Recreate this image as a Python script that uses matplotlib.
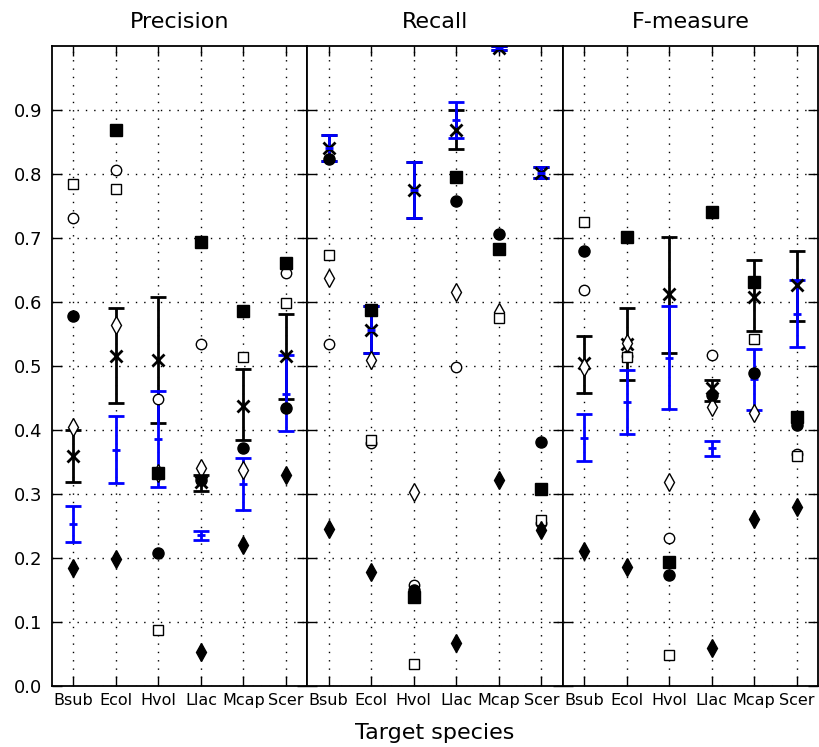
import matplotlib
matplotlib.use("Agg")
import matplotlib.pyplot as plt
import numpy as np

nan = np.nan
species = ['Bsub', 'Ecol', 'Hvol', 'Llac', 'Mcap', 'Scer']
panels = ['Precision', 'Recall', 'F-measure']

# ===================================================================== single methods
# filled square, open circle, open square, filled circle, open diamond, filled diamond
precision_fsq = [nan, 0.869, 0.333, 0.694, 0.586, 0.661]
precision_ocirc = [0.731, 0.806, 0.448, 0.534, nan, 0.646]
precision_osq = [0.784, 0.777, 0.087, nan, 0.514, 0.598]
precision_fcirc = [0.578, nan, 0.207, 0.322, 0.372, 0.435]
precision_odiam = [0.405, 0.564, 0.333, 0.340, 0.338, nan]
precision_fdiam = [0.184, 0.198, nan, 0.053, 0.220, 0.329]

recall_fsq = [nan, 0.5875, 0.139, 0.795, 0.683, 0.308]
recall_ocirc = [0.535, 0.379, 0.158, 0.499, nan, 0.254]
recall_osq = [0.674, 0.384, 0.034, nan, 0.575, 0.259]
recall_fcirc = [0.823, nan, 0.150, 0.758, 0.707, 0.382]
recall_odiam = [0.638, 0.510, 0.303, 0.615, 0.585, nan]
recall_fdiam = [0.246, 0.178, nan, 0.067, 0.322, 0.244]

fmeas_fsq = [nan, 0.701, 0.194, 0.741, 0.631, 0.421]
fmeas_ocirc = [0.618, 0.516, 0.232, 0.517, nan, 0.362]
fmeas_osq = [0.7255, 0.514, 0.048, nan, 0.542, 0.359]
fmeas_fcirc = [0.679, nan, 0.173, 0.455, 0.489, 0.408]
fmeas_odiam = [0.498, 0.536, 0.319, 0.436, 0.426, nan]
fmeas_fdiam = [0.211, 0.186, nan, 0.060, 0.261, 0.280]

# ===================================================================== means (black x / blue)
precision_black_mid = [0.359, 0.516, 0.509, 0.318, 0.438, 0.515]
precision_black_lo = [0.319, 0.442, 0.411, 0.305, 0.384, 0.448]
precision_black_hi = [0.400, 0.590, 0.608, 0.330, 0.495, 0.581]
precision_blue_mid = [0.253, 0.369, 0.386, 0.236, 0.316, 0.457]
precision_blue_lo = [0.2245, 0.317, 0.311, 0.228, 0.275, 0.399]
precision_blue_hi = [0.281, 0.422, 0.461, 0.242, 0.356, 0.517]

recall_black_mid = [0.841, 0.557, 0.775, 0.869, 0.997, 0.802]
recall_black_lo = [0.821, 0.520, 0.731, 0.839, 0.994, 0.794]
recall_black_hi = [0.861, 0.594, 0.818, 0.900, 1.000, 0.811]
recall_blue_mid = [0.841, 0.557, 0.775, 0.884, 0.997, 0.802]
recall_blue_lo = [0.821, 0.520, 0.731, 0.857, 0.994, 0.794]
recall_blue_hi = [0.861, 0.594, 0.818, 0.912, 1.000, 0.811]

fmeas_black_mid = [0.504, 0.535, 0.6125, 0.465, 0.608, 0.627]
fmeas_black_lo = [0.458, 0.478, 0.521, 0.446, 0.554, 0.571]
fmeas_black_hi = [0.547, 0.591, 0.702, 0.478, 0.665, 0.680]
fmeas_blue_mid = [0.388, 0.443, 0.512, 0.372, 0.480, 0.581]
fmeas_blue_lo = [0.352, 0.394, 0.433, 0.360, 0.431, 0.529]
fmeas_blue_hi = [0.425, 0.493, 0.593, 0.383, 0.527, 0.634]

# drawing order: later entries end up on top
methods = [
    (precision_odiam, recall_odiam, fmeas_odiam, 'd', 'w', 9),
    (precision_ocirc, recall_ocirc, fmeas_ocirc, 'o', 'w', 7.5),
    (precision_osq, recall_osq, fmeas_osq, 's', 'w', 7.5),
    (precision_fcirc, recall_fcirc, fmeas_fcirc, 'o', 'k', 8),
    (precision_fsq, recall_fsq, fmeas_fsq, 's', 'k', 8),
    (precision_fdiam, recall_fdiam, fmeas_fdiam, 'd', 'k', 9),
]
black_bars = [(precision_black_mid, precision_black_lo, precision_black_hi),
              (recall_black_mid, recall_black_lo, recall_black_hi),
              (fmeas_black_mid, fmeas_black_lo, fmeas_black_hi)]
blue_bars = [(precision_blue_mid, precision_blue_lo, precision_blue_hi),
             (recall_blue_mid, recall_blue_lo, recall_blue_hi),
             (fmeas_blue_mid, fmeas_blue_lo, fmeas_blue_hi)]

# =====================================================================

fig, axes = plt.subplots(1, 3, sharey=True, figsize=(8.2, 7.47), dpi=100)
fig.subplots_adjust(left=0.0634, right=0.9976, bottom=0.0817, top=0.9384, wspace=0)

x = np.arange(len(species))

for i, ax in enumerate(axes):
    mid, lo, hi = [np.array(v) for v in black_bars[i]]
    ax.errorbar(x, mid, yerr=[mid - lo, hi - mid], fmt='x', color='k', ms=8, mew=2,
                elinewidth=2, capsize=6, capthick=2)
    mid, lo, hi = [np.array(v) for v in blue_bars[i]]
    ax.errorbar(x, mid, yerr=[mid - lo, hi - mid], fmt='_', color='b', ms=6, mew=2,
                elinewidth=2, capsize=6, capthick=2)

    for m in methods:
        ax.plot(x, m[i], linestyle='none', marker=m[3], markerfacecolor=m[4],
                markeredgecolor='k', markersize=m[5], markeredgewidth=1, zorder=3)

    ax.set_xlim(-0.5, 5.5)
    ax.set_ylim(0, 1.0)
    ax.set_xticks(x)
    ax.set_xticklabels(species, fontsize=11.5)
    ax.set_yticks(np.arange(0, 1.0, 0.1))
    ax.tick_params(axis='y', labelsize=13, pad=7)
    ax.tick_params(axis='x', pad=5)
    ax.tick_params(direction='in', top=True, right=True, length=7, width=1)
    ax.grid(True, color='k', linestyle=(0, (1, 5)), linewidth=1)
    ax.set_title(panels[i], fontsize=16, pad=13)
    for s in ax.spines.values():
        s.set_linewidth(1.3)

axes[0].yaxis.set_major_formatter(matplotlib.ticker.FormatStrFormatter('%.1f'))
fig.text(0.53, 0.006, 'Target species', ha='center', va='bottom', fontsize=16)

fig.savefig('out.png')
